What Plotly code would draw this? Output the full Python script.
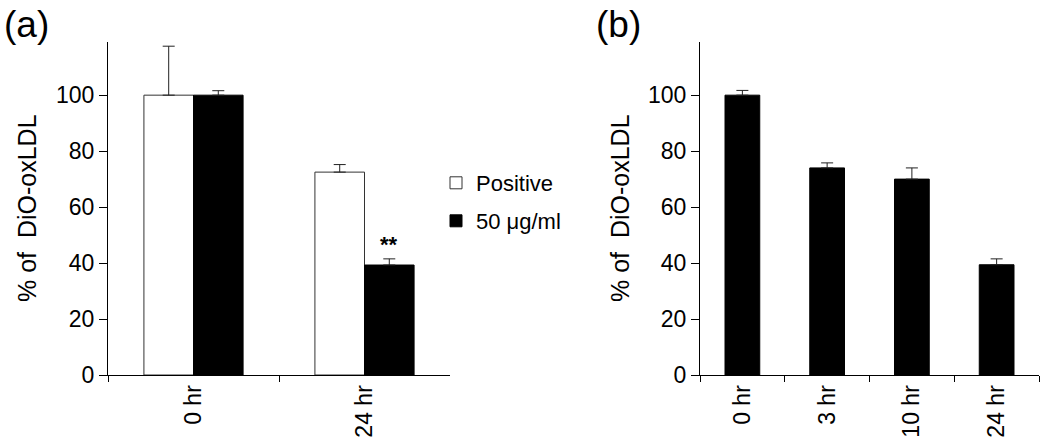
import plotly.graph_objects as go

# ---- data ----
cats_a = ["0 hr", "24 hr"]
positive_vals = [100, 72.5]
positive_err = [17.5, 2.7]
dose_vals = [100, 39.3]
dose_err = [1.6, 2.2]

cats_b = ["0 hr", "3 hr", "10 hr", "24 hr"]
time_vals = [100, 74, 70, 39.4]
time_err = [1.7, 1.8, 4.0, 2.1]

FONT = "Liberation Sans, Arial, sans-serif"
W, H = 1050, 447

fig = go.Figure()

err_style = dict(type="data", symmetric=False, thickness=1, width=6, color="#222")

fig.add_trace(go.Bar(
    x=cats_a, y=positive_vals, name="Positive",
    marker=dict(color="white", line=dict(color="#333", width=1)),
    error_y=dict(array=positive_err, arrayminus=[0] * len(positive_err), **err_style),
    xaxis="x", yaxis="y", legend="legend",
))
fig.add_trace(go.Bar(
    x=cats_a, y=dose_vals, name="50 μg/ml",
    marker=dict(color="black", line=dict(color="black", width=1)),
    error_y=dict(array=dose_err, arrayminus=[0] * len(dose_err), **err_style),
    xaxis="x", yaxis="y", legend="legend2",
))
fig.add_trace(go.Bar(
    x=cats_b, y=time_vals, name="time", showlegend=False, width=0.41,
    marker=dict(color="black", line=dict(color="black", width=1)),
    error_y=dict(array=time_err, arrayminus=[0] * len(time_err), **err_style),
    xaxis="x2", yaxis="y2",
))

bargap = 0.42
ydom = [72 / H, 405 / H]
yrange = [0, 119]

xaxis_common = dict(
    type="category", showline=True, linecolor="black", linewidth=1,
    ticks="outside", ticklen=6, tickcolor="black", tickson="boundaries",
    tickangle=-90, tickfont=dict(family=FONT, size=23, color="black"),
    showgrid=False, zeroline=False, fixedrange=True, automargin=False,
)
yaxis_common = dict(
    range=yrange, domain=ydom, showline=True, linecolor="black", linewidth=1,
    ticks="outside", ticklen=8, tickcolor="black",
    tickvals=[0, 20, 40, 60, 80, 100],
    tickfont=dict(family=FONT, size=23, color="black"),
    showgrid=False, zeroline=False, fixedrange=True, automargin=False,
)

fig.update_layout(
    width=W, height=H, autosize=False,
    margin=dict(l=0, r=0, t=0, b=0, pad=0, autoexpand=False),
    paper_bgcolor="white", plot_bgcolor="white",
    barmode="group", bargap=bargap, bargroupgap=0,
    font=dict(family=FONT, color="black"),
    xaxis=dict(domain=[108 / W, 450 / W], anchor="y", **xaxis_common),
    yaxis=dict(anchor="x", **yaxis_common),
    xaxis2=dict(domain=[700 / W, 1039 / W], anchor="y2", **xaxis_common),
    yaxis2=dict(anchor="x2", **yaxis_common),
    legend=dict(x=436 / W, y=1 - 183 / H, xanchor="left", yanchor="middle",
                font=dict(family=FONT, size=22, color="black"),
                bgcolor="rgba(0,0,0,0)", itemwidth=30),
    legend2=dict(x=436 / W, y=1 - 221 / H, xanchor="left", yanchor="middle",
                 font=dict(family=FONT, size=22, color="black"),
                 bgcolor="rgba(0,0,0,0)", itemwidth=30),
)

for text, xc in (("(a)", 26 / W), ("(b)", 618 / W)):
    fig.add_annotation(text=text, x=xc, y=1 - 24 / H, xref="paper", yref="paper",
                       xanchor="center", yanchor="middle", showarrow=False,
                       font=dict(family=FONT, size=37, color="black"))
for xc in (27 / W, 620 / W):
    fig.add_annotation(text="% of\u00a0 DiO-oxLDL", x=xc, y=1 - 208 / H, xref="paper", yref="paper",
                       textangle=-90, xanchor="center", yanchor="middle", showarrow=False,
                       font=dict(family=FONT, size=25, color="black"))

# significance marker above the 50 µg/ml bar at 24 hr
offset = (1 - bargap) / 4
fig.add_annotation(text="<b>**</b>", x=1 + offset, y=dose_vals[1] + dose_err[1], xref="x", yref="y",
                   xanchor="center", yanchor="bottom", showarrow=False,
                   font=dict(family=FONT, size=22, color="black"))

post = (
    "var d=document.documentElement,b=document.body;"
    "d.style.margin='0';d.style.padding='0';d.style.overflow='hidden';d.style.height='447px';"
    "b.style.margin='0';b.style.padding='0';b.style.overflow='hidden';b.style.height='447px';"
)
fig.write_html("out.html", config={"displayModeBar": False}, post_script=post)
